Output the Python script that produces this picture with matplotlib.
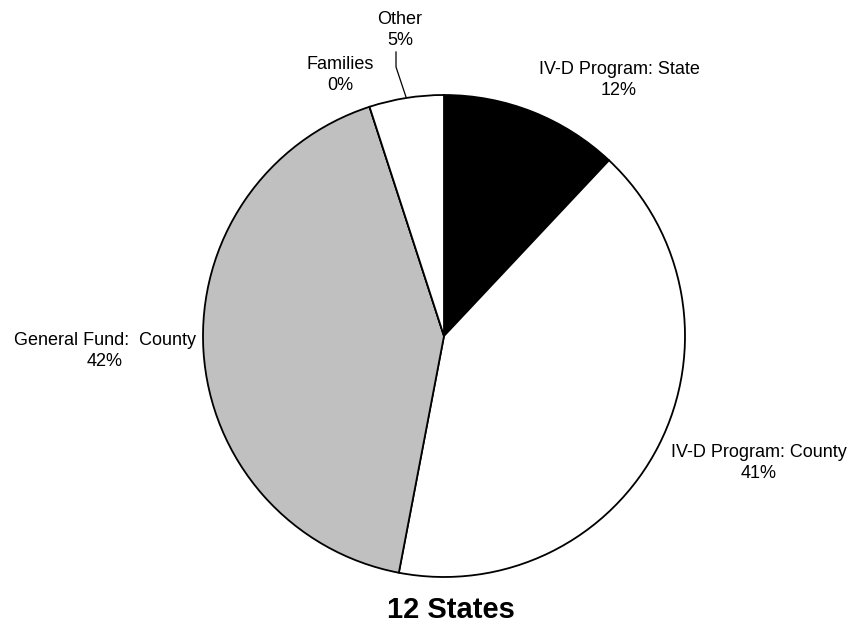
import matplotlib.pyplot as plt

plt.rcParams['font.family'] = ['Liberation Sans', 'DejaVu Sans']

# slice data, clockwise from 12 o'clock
categories = ["IV-D Program: State", "IV-D Program: County", "General Fund:  County",
              "Families", "Other"]
shares = [12, 41, 42, 0, 5]
colors = ["black", "white", "#c0c0c0", "white", "white"]
title = "12 States"

# label centres in pixel space (x, y from top)
label_pos = [(619, 80), (759, 463), (105, 351), (340, 75), (400, 30)]

W, H = 863, 627
fig = plt.figure(figsize=(W / 100, H / 100), dpi=100)
ax = fig.add_axes([0, 0, 1, 1])

cx, cy, r = 444, H - 336, 241
ax.pie(shares, colors=colors, startangle=90, counterclock=False,
       center=(cx, cy), radius=r, frame=True,
       wedgeprops=dict(edgecolor='black', linewidth=1.3))
ax.set_xlim(0, W)
ax.set_ylim(0, H)
ax.set_aspect('equal')
ax.axis('off')

for name, val, (lx, ly) in zip(categories, shares, label_pos):
    ax.text(lx, H - ly, f"{name}\n{val:.0f}%", ha='center', va='center',
            fontsize=13, linespacing=1.3)

# leader line for the small "Other" slice
ax.plot([406, 396, 396], [H - 97, H - 67, H - 52], color='black', lw=0.9)

ax.text(451, H - 610, title, ha='center', va='center', fontsize=21,
        fontweight='bold')

fig.savefig("out.png", dpi=100)
